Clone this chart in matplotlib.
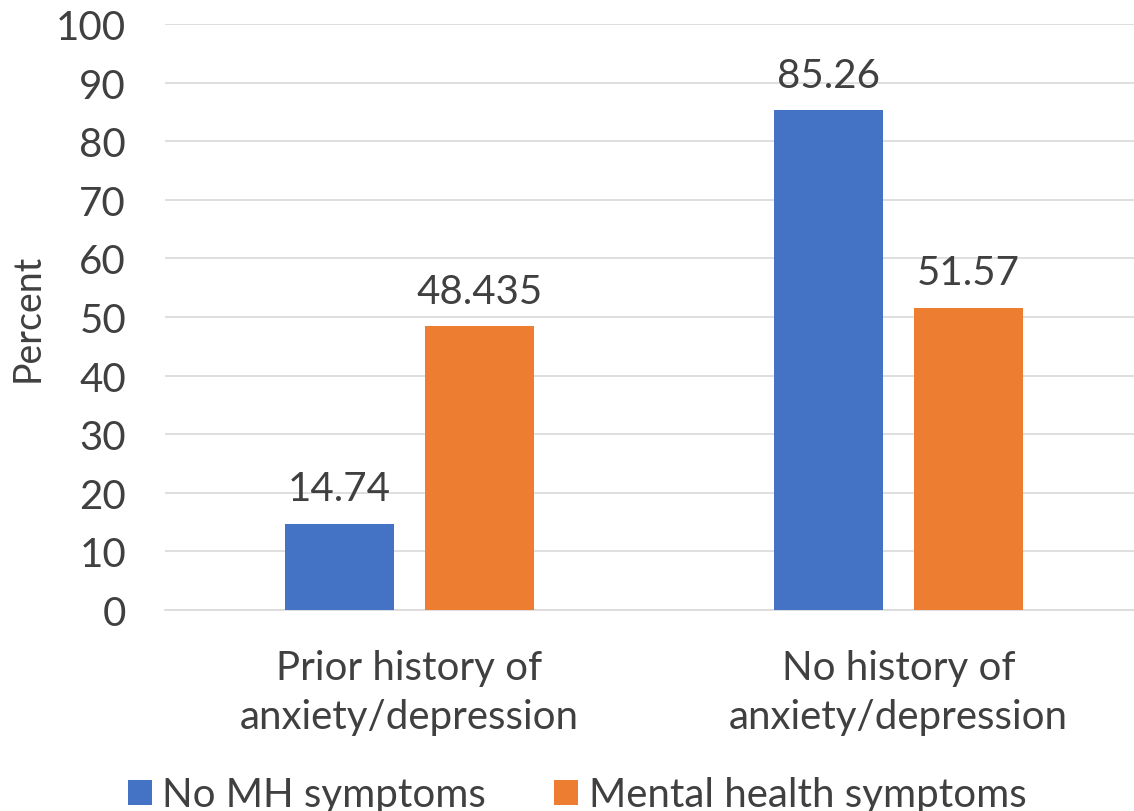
import matplotlib.pyplot as plt
import numpy as np

categories = ["Prior history of\nanxiety/depression", "No history of\nanxiety/depression"]
series_names = ["No MH symptoms", "Mental health symptoms"]
no_mh = [14.74, 85.26]
mh = [48.435, 51.57]
value_labels = [["14.74", "85.26"], ["48.435", "51.57"]]
colors = ["#4472C4", "#ED7D31"]

plt.rcParams["font.family"] = ["Lato", "DejaVu Sans"]
text_color = "#404040"
fs = 29

fig = plt.figure(figsize=(11.34, 8.12), dpi=100)
ax = fig.add_axes([165 / 1134, (812 - 611) / 812, (1143 - 165) / 1134, (611 - 25) / 812])

x = np.arange(len(categories))
w = 0.223
off = 0.143
for i, (vals, name) in enumerate(zip([no_mh, mh], series_names)):
    pos = x + (-off if i == 0 else off)
    bars = ax.bar(pos, vals, width=w, color=colors[i], label=name, zorder=3)
    for b, lab in zip(bars, value_labels[i]):
        ax.text(b.get_x() + b.get_width() / 2, b.get_height() + 2.8, lab,
                ha="center", va="bottom", fontsize=fs, color=text_color)

ax.set_xlim(-0.5, 1.5)
ax.set_ylim(0, 100)
ax.set_yticks(range(0, 101, 10))
ax.set_xticks(x)
ax.set_xticklabels(categories, fontsize=fs, color=text_color, linespacing=1.42)
ax.tick_params(axis="y", labelsize=fs, labelcolor=text_color, length=0, pad=28)
ax.tick_params(axis="x", length=0, pad=28)
ax.grid(axis="y", color="#d9d9d9", linewidth=1.2, zorder=0)
for s in ["top", "right", "left"]:
    ax.spines[s].set_visible(False)
ax.spines["bottom"].set_color("#d9d9d9")
ax.spines["bottom"].set_linewidth(1.2)
ax.set_ylabel("Percent", fontsize=27, color=text_color)
ax.yaxis.set_label_coords(46 / 1134, (812 - 318) / 812, transform=fig.transFigure)

fig.legend(loc="center", bbox_to_anchor=(577 / 1134, (812 - 796) / 812), ncol=2,
           frameon=False, fontsize=fs, labelcolor=text_color,
           handlelength=0.6, handleheight=0.6, columnspacing=1.7, handletextpad=0.25)

fig.savefig("out.png", dpi=100)
